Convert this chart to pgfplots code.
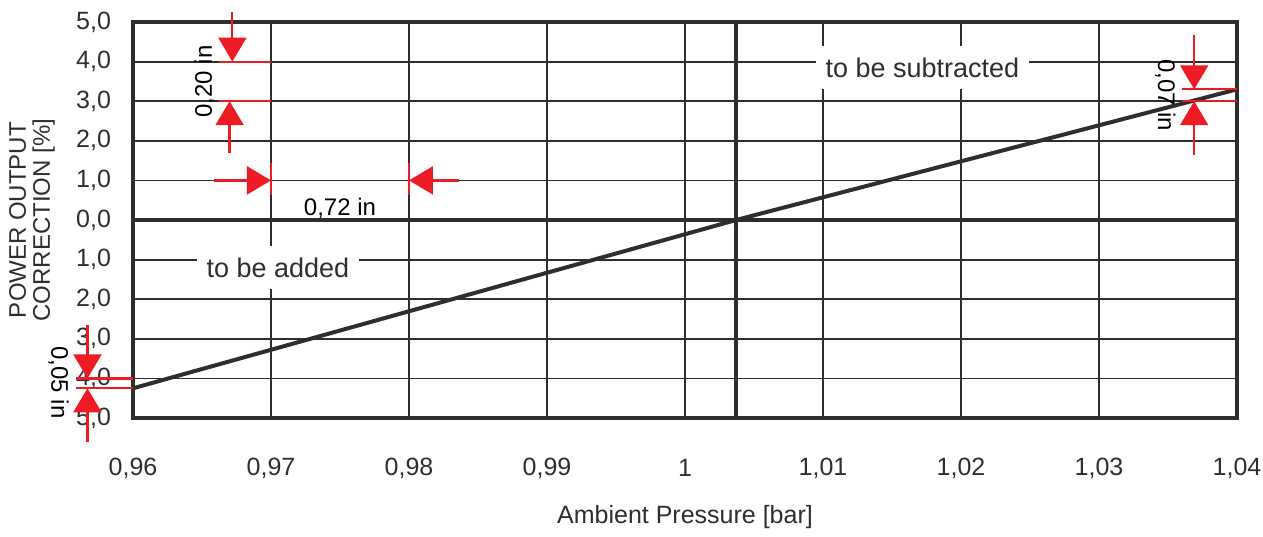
\documentclass[border=0pt]{standalone}
\usepackage{fontspec}
\setmainfont{Liberation Sans}
\usepackage{pgfplots}
\pgfplotsset{compat=1.18}
\usetikzlibrary{arrows.meta}
\definecolor{ink}{gray}{0.18}
\definecolor{annred}{RGB}{237,28,36}

\begin{document}
\begin{tikzpicture}[
  redline/.style={annred, line width=1.1pt},
  redarrow/.style={annred, line width=1.1pt, -{Triangle[width=14pt,length=12pt]}},
  ann/.style={font=\fontsize{12}{14}\selectfont, inner sep=0pt},
  boxtxt/.style={fill=white, inner xsep=5pt, inner ysep=6pt, text=ink,
    font=\fontsize{13.5}{15}\selectfont}]
\begin{axis}[
  scale only axis, width=552pt, height=198pt,
  xmin=0.96, xmax=1.04, ymin=-5, ymax=5,
  clip=false,
  xtick={0.96,0.97,0.98,0.99,1,1.01,1.02,1.03,1.04},
  xticklabels={{0,96},{0,97},{0,98},{0,99},{1},{1,01},{1,02},{1,03},{1,04}},
  ytick={-5,-4,-3,-2,-1,0,1,2,3,4,5},
  yticklabels={{5,0},{4,0},{3,0},{2,0},{1,0},{0,0},{1,0},{2,0},{3,0},{4,0},{5,0}},
  axis line style={ink, line width=1.8pt},
  grid=major, grid style={ink, line width=0.9pt},
  major tick length=0pt,
  tick label style={font=\fontsize{12.5}{14}\selectfont, text=ink},
  xticklabel style={anchor=center, yshift=-25pt},
  yticklabel style={xshift=-7.5pt},
  xlabel={Ambient Pressure [bar]},
  xlabel style={at={(axis description cs:0.5,-0.25)}, anchor=center,
    font=\fontsize{12.5}{14}\selectfont, text=ink},
  ylabel={POWER OUTPUT\\CORRECTION [\%]},
  ylabel style={at={(axis description cs:-0.0915,0.5)}, anchor=center,
    align=center, font=\fontsize{12}{12}\selectfont, text=ink},
  extra x ticks={1.0037}, extra x tick labels={},
  extra x tick style={grid style={ink, line width=1.9pt}},
  extra y ticks={0}, extra y tick labels={},
  extra y tick style={grid style={ink, line width=1.9pt}},
]
\addplot[ink, line width=2pt] coordinates {
  (0.96,-4.25) (1.0037,0) (1.04,3.3)
};

\node[boxtxt] at (axis cs:1.0172,3.85) {to be subtracted};
\node[boxtxt] at (axis cs:0.9705,-1.2) {to be added};

% 0,20 in
\draw[redline] (axis cs:0.9662,4) -- (axis cs:0.97,4);
\draw[redline] (axis cs:0.9662,3) -- (axis cs:0.97,3);
\draw[redarrow] (axis cs:0.9672,5.25) -- (axis cs:0.9672,4);
\draw[redarrow] (axis cs:0.9670,1.7) -- (axis cs:0.9670,3);
\node[ann, rotate=90] at (axis cs:0.9652,3.5) {0,20 in};

% 0,72 in
\draw[redline] (axis cs:0.97,1.45) -- (axis cs:0.97,0.62);
\draw[redline] (axis cs:0.98,1.45) -- (axis cs:0.98,0.62);
\draw[redarrow] (axis cs:0.9659,1) -- (axis cs:0.97,1);
\draw[redarrow] (axis cs:0.9836,1) -- (axis cs:0.98,1);
\node[ann, anchor=base] at (axis cs:0.975,0.12) {0,72 in};

% 0,05 in
\draw[redline] (axis cs:0.9559,-4) -- (axis cs:0.96,-4);
\draw[redline] (axis cs:0.9559,-4.25) -- (axis cs:0.96,-4.25);
\draw[redarrow] (axis cs:0.9567,-2.65) -- (axis cs:0.9567,-4);
\draw[redarrow] (axis cs:0.9567,-5.6) -- (axis cs:0.9567,-4.25);
\node[ann, rotate=-90] at (axis cs:0.9546,-4.1) {0,05 in};

% 0,07 in
\draw[redline] (axis cs:1.036,3.3) -- (axis cs:1.04,3.3);
\draw[redline] (axis cs:1.036,3) -- (axis cs:1.04,3);
\draw[redarrow] (axis cs:1.0369,4.68) -- (axis cs:1.0369,3.3);
\draw[redarrow] (axis cs:1.0369,1.63) -- (axis cs:1.0369,3);
\node[ann, rotate=-90] at (axis cs:1.0348,3.15) {0,07 in};
\end{axis}
\pgfresetboundingbox
\path[use as bounding box] (-66.5pt,-59pt) rectangle (565pt,209pt);
\end{tikzpicture}
\end{document}
